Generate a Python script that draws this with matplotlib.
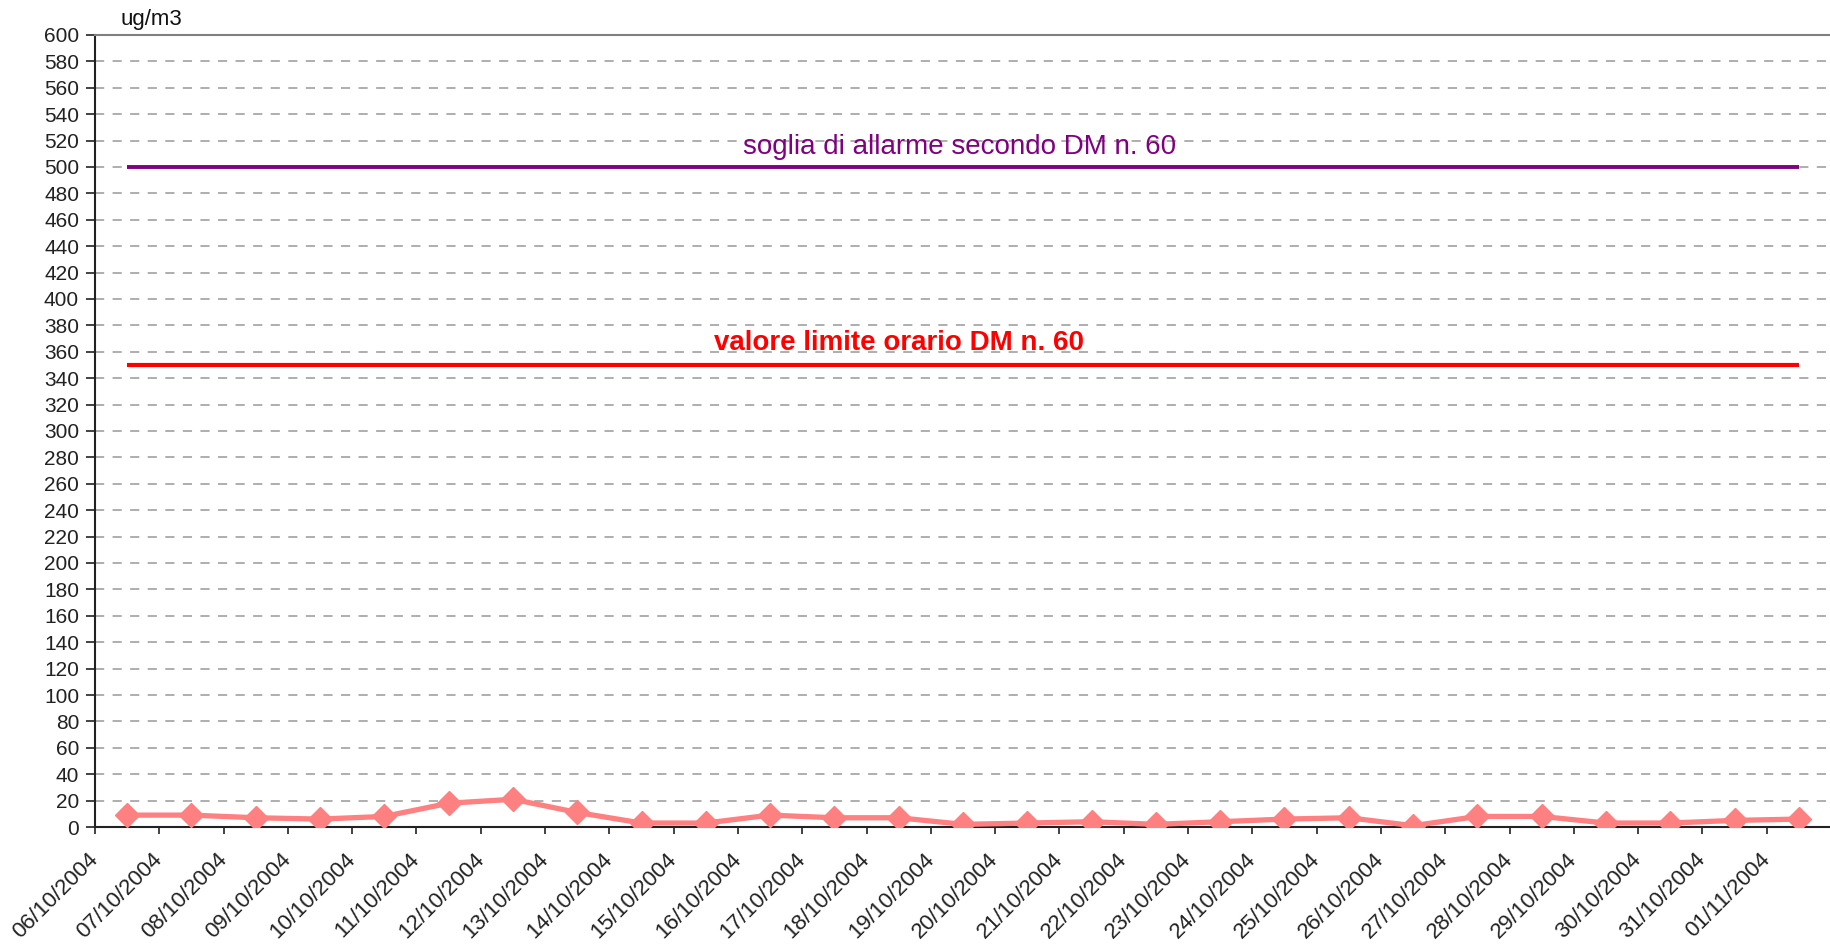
import numpy as np
import matplotlib
matplotlib.use('Agg')
from matplotlib import pyplot as plt

dates = ['06/10/2004', '07/10/2004', '08/10/2004', '09/10/2004', '10/10/2004',
         '11/10/2004', '12/10/2004', '13/10/2004', '14/10/2004', '15/10/2004',
         '16/10/2004', '17/10/2004', '18/10/2004', '19/10/2004', '20/10/2004',
         '21/10/2004', '22/10/2004', '23/10/2004', '24/10/2004', '25/10/2004',
         '26/10/2004', '27/10/2004', '28/10/2004', '29/10/2004', '30/10/2004',
         '31/10/2004', '01/11/2004']
values = [9, 9, 7, 6, 8, 18, 21, 11, 3, 3, 9, 7, 7, 2, 3, 4, 2, 4, 6, 7,
          1, 8, 8, 3, 3, 5, 6]
alarm_threshold = 500
hourly_limit = 350
alarm_label = 'soglia di allarme secondo DM n. 60'
limit_label = 'valore limite orario DM n. 60'
y_ticks = list(range(0, 601, 20))

plt.rcParams['font.family'] = ['Liberation Sans', 'DejaVu Sans']

W, H = 1831, 947
fig = plt.figure(figsize=(W / 100, H / 100), dpi=100)
ax = fig.add_axes([95 / W, (H - 827) / H, (W - 95) / W, 792 / H])

x = np.arange(len(dates))

# gridlines
for v in y_ticks[1:-1]:
    ax.axhline(v, color='#999999', lw=1.1, dashes=(6, 5.5), zorder=1)

ax.hlines(alarm_threshold, x[0], x[-1], color='#800080', lw=2.8, zorder=3)
ax.hlines(hourly_limit, x[0], x[-1], color='#ff0000', lw=3.0, zorder=3)

ax.plot(x, values, color='#ff8080', lw=3.8, marker='D', ms=12.5,
        markerfacecolor='#ff8080', markeredgecolor='#ff8080', zorder=4)

ax.text(12.95, 510, alarm_label, color='#800080', fontsize=20,
        ha='center', va='baseline', zorder=5)
ax.text(12.0, 361, limit_label, color='#ff0000', fontsize=20,
        fontweight='bold', ha='center', va='baseline', zorder=5)

ax.set_xlim(-0.5, len(dates) - 0.5)
ax.set_ylim(0, 600)
ax.set_yticks(y_ticks)
ax.tick_params(axis='y', direction='out', length=6.5, width=1.2,
               colors='#222222', labelsize=15, pad=5)
ax.set_xticks(x - 0.5)
ax.set_xticklabels(dates, rotation=45, ha='right', va='center',
                   rotation_mode='anchor')
ax.tick_params(axis='x', direction='out', length=5, width=1.2,
               colors='#222222', labelsize=16, pad=16)

ax.spines['right'].set_visible(False)
ax.spines['top'].set_color('#808080')
ax.spines['top'].set_linewidth(1.5)
ax.spines['left'].set_color('#222222')
ax.spines['left'].set_linewidth(1.5)
ax.spines['bottom'].set_color('#222222')
ax.spines['bottom'].set_linewidth(1.5)

fig.text(120 / W, 1 - 25 / H, 'ug/m3', fontsize=16, va='baseline',
         color='#111111')

fig.savefig('out.png', dpi=100)
